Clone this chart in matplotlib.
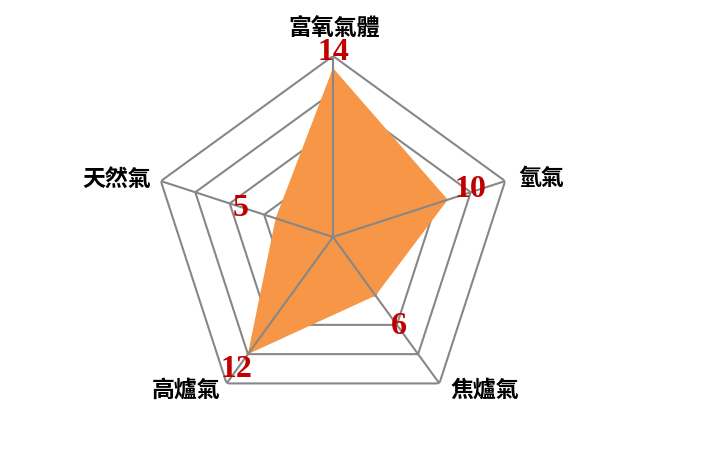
import numpy as np
import matplotlib
matplotlib.use("Agg")
import matplotlib.pyplot as plt

plt.rcParams['font.family'] = ['Noto Sans CJK TC', 'DejaVu Sans']

# data
categories = ['富氧氣體', '氫氣', '焦爐氣', '高爐氣', '天然氣']
values = [14, 10, 6, 12, 5]
rings = [3, 6, 9, 12, 15]
r_max = 15

# label offsets in points (data labels / category labels)
val_offsets = [(0, 11), (16, 7), (17, -22), (-8, -11), (-25, 7)]
cat_offsets = [(1, 19), (26, 2), (33, -5), (-29, -5), (-32, 1)]

grid_color = '#878787'
fill_color = '#F79646'
label_color = '#C00000'

n = len(categories)
angles = np.arange(n) * 2 * np.pi / n

fig = plt.figure(figsize=(7.19, 4.62), dpi=100)
cx, cy, R = 333 / 719, 1 - 237 / 462, 181
ax = fig.add_axes([cx - R / 719, cy - R / 462, 2 * R / 719, 2 * R / 462], projection='polar')
ax.set_theta_offset(np.pi / 2)
ax.set_theta_direction(-1)
ax.set_ylim(0, r_max)
ax.axis('off')

ang_closed = np.append(angles, angles[0])

# pentagon rings
for r in rings:
    ax.plot(ang_closed, [r] * (n + 1), color=grid_color, lw=1.5, zorder=1)

# filled series
vals_closed = values + values[:1]
ax.fill(ang_closed, vals_closed, color=fill_color, lw=0, zorder=2)

# spokes
for a in angles:
    ax.plot([a, a], [0, r_max], color=grid_color, lw=1.5, zorder=3)

# data labels
for a, v, off in zip(angles, values, val_offsets):
    ax.annotate(str(v), xy=(a, v), xytext=off, textcoords='offset points',
                ha='center', va='center', fontsize=23, fontweight='bold',
                color=label_color, family='Liberation Serif', zorder=5)

# category labels
for a, c, off in zip(angles, categories, cat_offsets):
    ax.annotate(c, xy=(a, r_max), xytext=off, textcoords='offset points',
                ha='center', va='center', fontsize=16.5, fontweight='bold',
                color='black', annotation_clip=False)

fig.savefig('out.png', dpi=100)
